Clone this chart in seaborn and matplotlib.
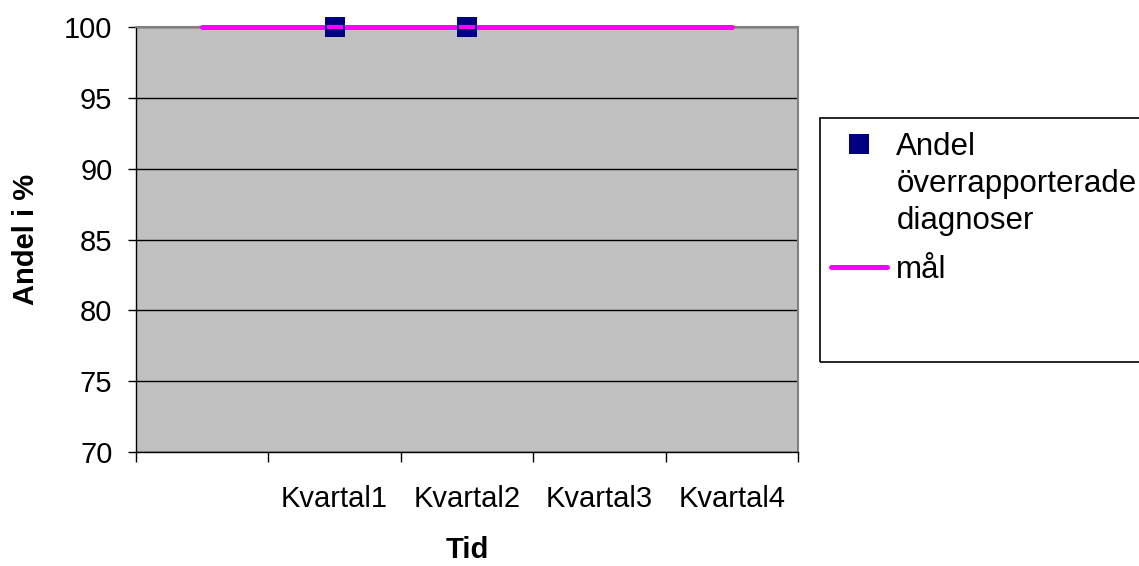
import numpy as np
import pandas as pd
import matplotlib
matplotlib.use('Agg')
import matplotlib.pyplot as plt
import seaborn as sns
from matplotlib.patches import Rectangle
from matplotlib.legend_handler import HandlerPathCollection

# data
kategorier = ['', 'Kvartal1', 'Kvartal2', 'Kvartal3', 'Kvartal4']
andel = [np.nan, 100, 100, np.nan, np.nan]
mal = [100, 100, 100, 100, 100]
y_ticks = [70, 75, 80, 85, 90, 95, 100]

sns.set_style('white')
plt.rcParams['font.family'] = ['Liberation Sans', 'DejaVu Sans']
plt.rcParams['text.color'] = 'black'
plt.rcParams['axes.labelcolor'] = 'black'
plt.rcParams['xtick.color'] = 'black'
plt.rcParams['ytick.color'] = 'black'

df = pd.DataFrame({'pos': range(len(kategorier)), 'kvartal': kategorier,
                   'andel': andel, 'mal': mal})

fig = plt.figure(figsize=(11.39, 5.66), dpi=100)
ax = fig.add_axes([136/1139, 1 - 452/566, 662/1139, 425/566])
ax.set_facecolor('#C0C0C0')

sns.lineplot(data=df, x='pos', y='mal', ax=ax, color='#FF00FF', linewidth=3.6,
             label='mål', zorder=3, clip_on=False)
sns.scatterplot(data=df, x='pos', y='andel', ax=ax, color='#000080', marker='s',
                s=14.5**2, linewidth=0, label='Andel\növerrapporterade\ndiagnoser',
                zorder=4, clip_on=False)
ax.plot(df['pos'], df['andel'], linestyle='none', marker='_', color='#FF00FF',
        markersize=11, mew=3, zorder=5, clip_on=False)

# axes
ax.set_xlim(-0.5, len(kategorier) - 0.5)
ax.set_xticks(range(len(kategorier)))
ax.set_xticklabels(kategorier)
ax.set_xticks(np.arange(-0.5, len(kategorier), 1), minor=True)
ax.tick_params(axis='x', which='major', length=0, pad=24, labelsize=21)
ax.tick_params(axis='x', which='minor', bottom=True, length=7, width=1,
               color='black', direction='out')
ax.set_ylim(70, 100)
ax.set_yticks(y_ticks)
ax.tick_params(axis='y', left=True, length=6, width=1, pad=11, labelsize=21,
               color='black', direction='out')
ax.yaxis.grid(True, color='black', linewidth=1)
ax.set_axisbelow(True)
for s in ['left', 'bottom']:
    ax.spines[s].set_color('black')
    ax.spines[s].set_linewidth(1)
for s in ['top', 'right']:
    ax.spines[s].set_color('#808080')
    ax.spines[s].set_linewidth(1.5)

ax.set_ylabel('Andel i %', fontsize=21, fontweight='bold', labelpad=17)
ax.set_xlabel('Tid', fontsize=21, fontweight='bold', labelpad=16)

# legend
handles, labels = ax.get_legend_handles_labels()
ax.get_legend().remove()
fig.add_artist(Rectangle((820/1139, 1 - 362/566), 330/1139, 244/566,
                         transform=fig.transFigure, fill=False,
                         edgecolor='black', linewidth=1.2))
leg = fig.legend([handles[1], handles[0]], [labels[1], labels[0]], loc='upper left',
                 bbox_to_anchor=(815/1139, 1 - 116/566), frameon=False, fontsize=22.5,
                 borderpad=0, handlelength=1.8, handletextpad=0.3, labelspacing=0.6,
                 handler_map={handles[1]: HandlerPathCollection(yoffsets=[2.35])})
leg.get_texts()[0].set_linespacing(1.32)

fig.savefig('out.png', dpi=100)
